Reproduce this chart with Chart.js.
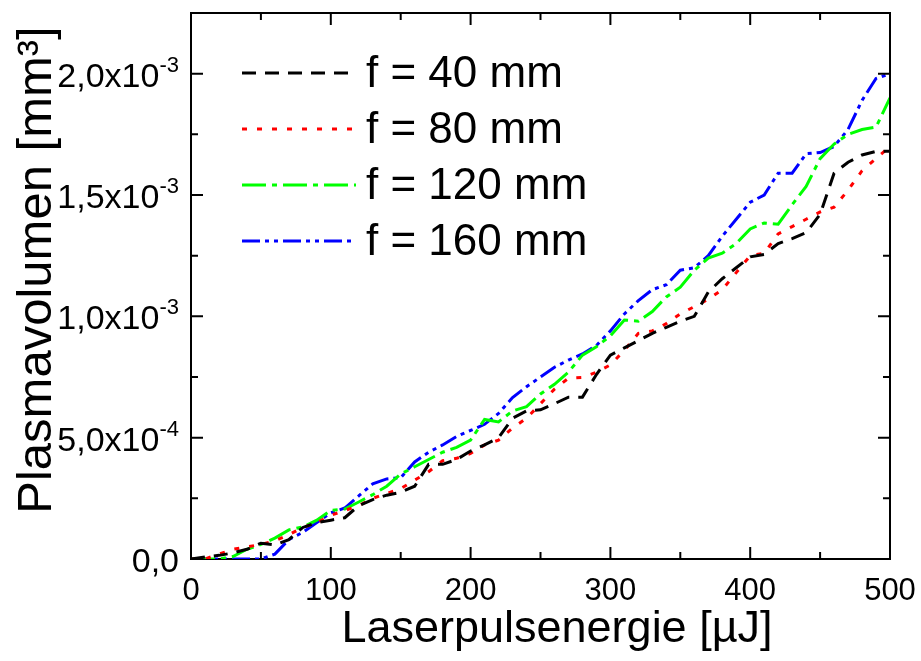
<!DOCTYPE html>
<html>
<head>
<meta charset="utf-8">
<script src="https://cdn.jsdelivr.net/npm/chart.js@4"></script>
<style>
  html, body { margin: 0; padding: 0; background: #fff; }
  canvas { display: block; }
</style>
</head>
<body>
<canvas id="plasma" width="921" height="661"></canvas>
<script>
// pulse energy in µJ
const energy = [0, 10, 20, 30, 40, 50, 60, 70, 80, 90, 100, 110, 120, 130, 140, 150, 160, 170, 180, 190,
    200, 210, 220, 230, 240, 250, 260, 270, 280, 290, 300, 310, 320, 330, 340, 350, 360, 370, 380, 390,
    400, 410, 420, 430, 440, 450, 460, 470, 480, 490, 500];

// plasma volume, in units of 10^-3 mm³
const f40 = [0, 0.008, 0.015, 0.025, 0.04, 0.065, 0.058, 0.08, 0.13, 0.15, 0.16, 0.17, 0.22, 0.245, 0.263, 0.275, 0.30, 0.39, 0.39, 0.41,
    0.445, 0.47, 0.50, 0.58, 0.61, 0.615, 0.64, 0.667, 0.667, 0.76, 0.84, 0.87, 0.90, 0.93, 0.955, 0.98, 1.00, 1.10, 1.155, 1.20,
    1.245, 1.255, 1.30, 1.32, 1.345, 1.42, 1.59, 1.635, 1.665, 1.68, 1.68];
const f80 = [0, 0, 0.02, 0.04, 0.05, 0.06, 0.075, 0.10, 0.13, 0.15, 0.18, 0.20, 0.22, 0.25, 0.27, 0.29, 0.325, 0.36, 0.405, 0.415,
    0.435, 0.47, 0.49, 0.54, 0.58, 0.64, 0.70, 0.745, 0.748, 0.77, 0.80, 0.86, 0.93, 0.94, 0.97, 1.01, 1.04, 1.07, 1.11, 1.18,
    1.25, 1.26, 1.34, 1.37, 1.40, 1.43, 1.45, 1.52, 1.60, 1.65, 1.70];
const f120 = [0, 0, 0, 0.01, 0.04, 0.06, 0.086, 0.12, 0.132, 0.16, 0.20, 0.206, 0.235, 0.265, 0.30, 0.35, 0.38, 0.41, 0.44, 0.46,
    0.49, 0.575, 0.565, 0.61, 0.628, 0.68, 0.72, 0.77, 0.84, 0.875, 0.92, 0.985, 0.98, 1.02, 1.08, 1.12, 1.19, 1.24, 1.26, 1.30,
    1.36, 1.385, 1.38, 1.46, 1.535, 1.65, 1.71, 1.75, 1.77, 1.78, 1.90];
const f160 = [0, 0, 0, 0, 0, 0, 0.02, 0.08, 0.11, 0.15, 0.19, 0.21, 0.26, 0.31, 0.33, 0.335, 0.40, 0.44, 0.47, 0.505,
    0.53, 0.555, 0.60, 0.665, 0.71, 0.75, 0.79, 0.82, 0.845, 0.88, 0.94, 1.01, 1.065, 1.11, 1.13, 1.19, 1.20, 1.25, 1.33, 1.40,
    1.47, 1.50, 1.59, 1.59, 1.67, 1.675, 1.70, 1.77, 1.89, 1.98, 2.0];

const seriesNames = ['f = 40 mm', 'f = 80 mm', 'f = 120 mm', 'f = 160 mm'];

const xTicks = [0, 100, 200, 300, 400, 500];
const xMinor = [50, 150, 250, 350, 450];
const yTicks = [0, 0.5, 1.0, 1.5, 2.0];
const yMinor = [0.25, 0.75, 1.25, 1.75];
// y tick labels: mantissa part and superscript exponent
const yTickBase = ['0,0', '5,0x10', '1,0x10', '1,5x10', '2,0x10'];
const yTickExp = ['', '-4', '-3', '-3', '-3'];

const xTitle = 'Laserpulsenergie [µJ]';
const yTitle = 'Plasmavolumen [mm³]';

const FONT = 'Arial, "Liberation Sans", Helvetica, sans-serif';

function pts(vals) {
    return energy.map((e, i) => ({ x: e, y: vals[i] }));
}

const styles = [
    { color: '#000000', dash: [14, 9] },
    { color: '#ff0000', dash: [5, 10] },
    { color: '#00ff00', dash: [24, 6, 5, 6] },
    { color: '#0000ff', dash: [18, 5, 4, 5, 4, 5] }
];

const datasets = [f40, f80, f120, f160].map((vals, i) => ({
    label: seriesNames[i],
    data: pts(vals),
    borderColor: styles[i].color,
    borderDash: styles[i].dash,
    borderWidth: 3,
    pointRadius: 0,
    fill: false,
    tension: 0
}));

// ticks pointing inward on all four sides, frame, y labels and axis titles
const frameTicks = {
    id: 'frameTicks',
    afterDraw(chart) {
        const { ctx, chartArea: { left, right, top, bottom }, scales: { x, y } } = chart;
        ctx.save();
        ctx.strokeStyle = '#000';
        ctx.lineWidth = 2;
        ctx.beginPath();
        ctx.moveTo(left, top); ctx.lineTo(right, top); ctx.lineTo(right, bottom);
        const tick = (vals, len) => {
            vals.forEach(v => {
                const px = x.getPixelForValue(v);
                ctx.moveTo(px, bottom); ctx.lineTo(px, bottom - len);
                ctx.moveTo(px, top); ctx.lineTo(px, top + len);
            });
        };
        const ytick = (vals, len) => {
            vals.forEach(v => {
                const py = y.getPixelForValue(v);
                ctx.moveTo(left, py); ctx.lineTo(left + len, py);
                ctx.moveTo(right, py); ctx.lineTo(right - len, py);
            });
        };
        tick(xTicks, 12); tick(xMinor, 7);
        ytick(yTicks, 12); ytick(yMinor, 7);
        ctx.stroke();

        // y tick labels with real superscripts
        const xr = left - 12;
        ctx.fillStyle = '#000';
        ctx.textBaseline = 'alphabetic';
        ctx.textAlign = 'left';
        yTicks.forEach((v, i) => {
            const py = y.getPixelForValue(v);
            ctx.font = '22px ' + FONT;
            const ew = yTickExp[i] ? ctx.measureText(yTickExp[i]).width : 0;
            ctx.font = '34px ' + FONT;
            const bw = ctx.measureText(yTickBase[i]).width;
            ctx.fillText(yTickBase[i], xr - ew - bw, py + 13);
            if (yTickExp[i]) {
                ctx.font = '22px ' + FONT;
                ctx.fillText(yTickExp[i], xr - ew, py - 2);
            }
        });

        // axis titles
        ctx.textAlign = 'center';
        ctx.textBaseline = 'middle';
        ctx.font = '45px ' + FONT;
        ctx.fillText(xTitle, 557, 630);
        ctx.save();
        ctx.translate(37, 270);
        ctx.rotate(-Math.PI / 2);
        ctx.font = '49px ' + FONT;
        ctx.fillText(yTitle, 0, 0);
        ctx.restore();
        ctx.restore();
    }
};

// legend inside the plot, upper left
const innerLegend = {
    id: 'innerLegend',
    afterDraw(chart) {
        const ctx = chart.ctx;
        ctx.save();
        ctx.font = '44px ' + FONT;
        ctx.textBaseline = 'middle';
        ctx.fillStyle = '#000';
        const rows = [73, 129, 185, 241];
        chart.data.datasets.forEach((ds, i) => {
            const yy = rows[i];
            ctx.strokeStyle = ds.borderColor;
            ctx.lineWidth = 3;
            ctx.setLineDash(ds.borderDash);
            ctx.beginPath();
            ctx.moveTo(242, yy);
            ctx.lineTo(356, yy);
            ctx.stroke();
            ctx.setLineDash([]);
            ctx.fillText(ds.label, 366, yy + 2);
        });
        ctx.restore();
    }
};

new Chart(document.getElementById('plasma'), {
    type: 'line',
    data: { datasets: datasets },
    options: {
        responsive: false,
        animation: false,
        devicePixelRatio: 1,
        layout: { padding: { top: 13, right: 31, left: 0, bottom: 0 } },
        plugins: { legend: { display: false }, tooltip: { enabled: false } },
        scales: {
            x: {
                type: 'linear',
                min: 0,
                max: 500,
                afterBuildTicks: s => { s.ticks = xTicks.map(v => ({ value: v })); },
                afterFit: s => { s.height = 102; s.paddingLeft = 0; s.paddingRight = 0; },
                grid: { display: false, drawTicks: false },
                border: { display: true, color: '#000', width: 2 },
                ticks: {
                    color: '#000',
                    padding: 14,
                    maxRotation: 0,
                    font: { family: FONT, size: 31 }
                },
                title: { display: false }
            },
            y: {
                type: 'linear',
                min: 0,
                max: 2.25,
                afterBuildTicks: s => { s.ticks = yTicks.map(v => ({ value: v })); },
                afterFit: s => { s.width = 191; s.paddingTop = 0; s.paddingBottom = 0; },
                grid: { display: false, drawTicks: false },
                border: { display: true, color: '#000', width: 2 },
                ticks: { display: false },
                title: { display: false }
            }
        }
    },
    plugins: [frameTicks, innerLegend]
});
</script>
</body>
</html>
